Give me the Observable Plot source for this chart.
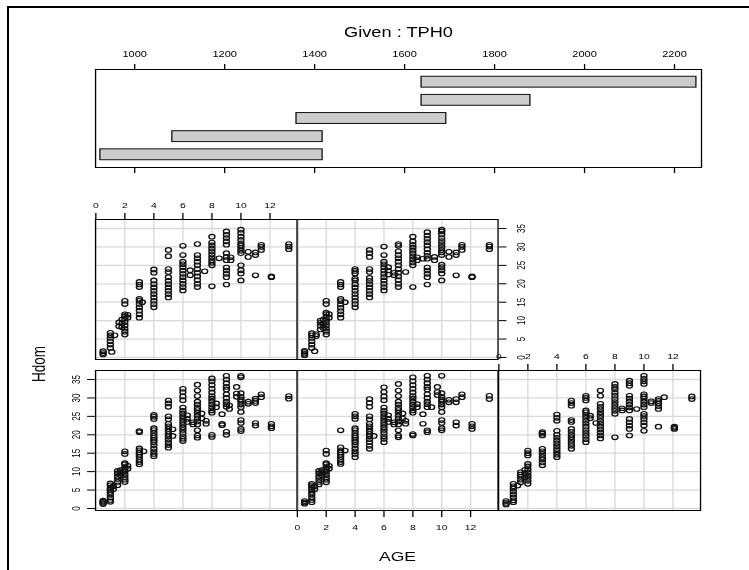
<!DOCTYPE html>
<html><head><meta charset="utf-8">
<script src="https://cdn.jsdelivr.net/npm/d3@7"></script>
<script src="https://cdn.jsdelivr.net/npm/@observablehq/plot@0.6"></script>
<style>
html,body{margin:0;padding:0;background:#fff;}
body{width:749px;height:570px;position:relative;overflow:hidden;font-family:"Liberation Sans",Arial,Helvetica,sans-serif;}
#stage{position:absolute;left:0;top:0;height:570px;transform-origin:0 0;filter:grayscale(1);}
#stage svg{position:absolute;overflow:visible;}
.lbl{position:absolute;white-space:nowrap;color:#000;line-height:1;}
.bline{position:absolute;background:#000;}
</style></head><body>
<div class="bline" style="left:7px;top:6px;width:742px;height:2px"></div>
<div class="bline" style="left:7px;top:6px;width:2px;height:564px"></div>
<div id="stage"></div>
<script>
// ---- data ----
const ageTicks = [0, 2, 4, 6, 8, 10, 12];
const hdomTicks = [0, 5, 10, 15, 20, 25, 30, 35];
const tphTicks = [1000, 1200, 1400, 1600, 1800, 2000, 2200];
const givenLow = [924, 1084, 1360, 1638, 1638];
const givenHigh = [1418, 1418, 1693, 1880, 2249];
const givenTitle = "Given : TPH0";
const xLabel = "AGE";
const yLabel = "Hdom";

// panel 1 (bottom-left): [AGE, [Hdom values]]
const panel1 = [
  [0.5, [1.2, 1.5, 1.8, 2.1]],
  [1, [1.8, 2.3, 3.0, 3.8, 4.5, 5.0, 5.5, 6.3, 6.8]],
  [1.2, [5.2, 6.0]],
  [1.5, [6.3, 7.2, 8.0, 8.7, 9.5, 10.2]],
  [1.7, [9.0, 9.8, 10.4]],
  [2, [7.2, 7.8, 8.5, 9.2, 10.0, 10.6, 11.2, 12.0, 12.3, 14.8, 15.5]],
  [2.2, [10.8, 11.6]],
  [3, [12.0, 12.6, 13.2, 14.0, 14.6, 15.2, 15.8, 16.3, 20.7, 21.0]],
  [3.3, [15.5]],
  [4, [14.2, 14.8, 15.5, 16.3, 17.2, 18.0, 18.6, 19.2, 19.8, 20.5, 21.3, 21.8, 24.3, 24.9, 25.4]],
  [5, [16.5, 17.2, 18.0, 18.8, 19.6, 20.2, 20.9, 21.6, 22.3, 23.0, 24.2, 25.0, 27.6, 28.5, 29.3]],
  [5.3, [19.7, 21.5]],
  [6, [18.3, 18.9, 19.6, 20.5, 21.3, 22.0, 22.7, 23.5, 24.3, 25.0, 25.8, 26.5, 27.4, 29.4, 30.4, 31.6, 32.5]],
  [6.3, [23.5, 24.3, 25.3]],
  [6.7, [22.8, 23.4]],
  [7, [19.2, 19.8, 21.2, 22.8, 23.6, 24.4, 25.2, 26.0, 26.7, 27.3, 28.2, 29.0, 30.5, 32.0, 33.6]],
  [7.3, [24.4, 25.8]],
  [7.6, [23.0, 23.8]],
  [8, [19.4, 20.0, 26.0, 26.6, 27.4, 28.2, 29.0, 29.8, 30.5, 31.5, 32.5, 33.5, 34.5, 35.3]],
  [8.3, [27.5, 28.5]],
  [8.7, [22.6, 23.0, 25.6]],
  [9, [20.0, 20.8, 27.6, 28.3, 29.0, 30.0, 31.0, 32.3, 33.0, 34.0, 35.0, 36.0]],
  [9.2, [27.0, 28.0]],
  [9.7, [30.3, 31.2, 33.0]],
  [10, [21.0, 21.6, 23.2, 24.0, 26.2, 27.5, 28.2, 29.0, 29.6, 30.3, 31.3, 35.6, 36.0]],
  [10.5, [28.4, 29.0]],
  [11, [22.5, 23.2, 28.6, 29.2, 29.8]],
  [11.4, [30.2, 31.0]],
  [12.1, [21.8, 22.3, 23.0]],
  [13.3, [29.8, 30.5]]
];
// panel 2 (bottom-middle)
const panel2 = [
  [0.5, [1.3, 1.6, 2.0]],
  [1, [1.7, 2.3, 3.0, 3.8, 4.5, 5.2, 5.8, 6.3, 6.7]],
  [1.2, [5.2, 6.0]],
  [1.5, [6.5, 7.2, 8.0, 8.7, 9.5, 10.2]],
  [1.7, [9.0, 9.8, 10.4]],
  [2, [7.1, 7.8, 8.5, 9.2, 10.0, 10.6, 11.2, 12.0, 12.3, 14.8, 15.7]],
  [2.2, [10.8, 11.6]],
  [3, [12.1, 12.6, 13.2, 14.0, 14.6, 15.2, 15.8, 16.6, 21.2]],
  [3.3, [15.7]],
  [4, [13.9, 14.8, 15.5, 16.3, 17.2, 18.0, 18.6, 19.2, 19.8, 20.5, 21.3, 21.8, 24.3, 25.0, 25.7]],
  [5, [16.2, 17.0, 18.0, 18.8, 19.6, 20.2, 20.9, 21.6, 22.3, 23.0, 24.2, 25.0, 27.6, 28.7, 29.7]],
  [5.3, [19.7]],
  [6, [18.0, 18.9, 19.6, 20.5, 21.3, 22.0, 22.7, 23.5, 24.3, 25.0, 25.8, 26.5, 27.4, 29.4, 30.4, 31.6, 32.9]],
  [6.3, [23.5, 24.3, 25.3]],
  [6.7, [22.8, 23.4]],
  [7, [19.3, 19.8, 21.2, 22.8, 23.6, 24.4, 25.2, 26.0, 26.7, 27.3, 28.2, 29.0, 30.5, 32.0, 33.8]],
  [7.3, [24.4, 25.8]],
  [7.5, [23.0, 23.8]],
  [8, [19.8, 20.2, 26.0, 26.6, 27.5, 28.2, 29.0, 29.8, 30.5, 31.5, 32.5, 33.5, 34.5, 35.6]],
  [8.3, [27.5, 28.3]],
  [8.7, [23.0, 25.6]],
  [9, [20.7, 21.2, 27.5, 28.3, 29.0, 30.0, 31.0, 32.3, 33.0, 34.0, 35.0, 36.0]],
  [9.3, [27.5]],
  [9.7, [30.8, 31.6, 33.0]],
  [10, [21.2, 21.8, 23.2, 24.0, 26.2, 27.5, 28.2, 29.0, 29.6, 30.3, 31.3, 36.0]],
  [10.5, [28.8, 29.5]],
  [11, [22.5, 23.4, 28.8, 29.7]],
  [11.4, [30.2, 31.0]],
  [12.1, [21.6, 22.3, 23.0]],
  [13.3, [29.7, 30.6]]
];
// panel 3 (bottom-right)
const panel3 = [
  [0.5, [1.1, 1.5, 2.0]],
  [1, [1.7, 2.2, 3.0, 3.8, 4.6, 5.4, 6.0, 6.7]],
  [1.3, [6.2]],
  [1.5, [7.1, 7.8, 8.6, 9.2, 9.8]],
  [1.8, [8.4, 9.5, 10.5]],
  [2, [6.7, 7.5, 8.3, 9.0, 9.8, 10.6, 11.4, 12.1, 14.4, 15.0, 15.7]],
  [3, [11.7, 12.5, 13.3, 14.0, 14.8, 15.5, 16.2, 19.8, 20.3, 20.7]],
  [4, [13.9, 14.6, 15.3, 16.1, 16.9, 17.6, 18.4, 19.2, 20.0, 21.1, 23.8, 24.6, 25.5]],
  [5, [16.2, 17.0, 17.8, 18.6, 19.3, 20.0, 20.8, 21.6, 23.5, 24.0, 27.9, 28.6, 29.3]],
  [6, [18.0, 18.8, 19.7, 20.5, 21.3, 22.2, 23.0, 23.8, 24.6, 25.4, 26.1, 26.6, 29.3, 30.0, 30.6]],
  [6.3, [24.5, 25.2]],
  [6.7, [23.2]],
  [7, [19.0, 19.8, 20.6, 21.4, 22.2, 23.0, 23.8, 24.6, 25.4, 26.1, 26.9, 27.6, 28.4, 30.6, 32.0]],
  [8, [19.3, 25.7, 26.5, 27.3, 28.1, 28.9, 29.7, 30.6, 31.4, 32.3, 33.0, 33.8]],
  [8.5, [26.6, 27.2]],
  [9, [19.8, 21.6, 22.5, 23.4, 24.3, 26.6, 27.4, 28.2, 29.0, 29.8, 30.6, 33.3, 34.0, 34.7]],
  [9.5, [27.0]],
  [10, [21.1, 22.5, 23.4, 24.3, 25.1, 25.7, 27.5, 28.2, 29.0, 29.8, 30.4, 31.0, 33.8, 34.5, 35.2, 36.0]],
  [10.5, [28.6, 29.1]],
  [11, [22.2, 27.0, 27.8, 28.5, 29.2, 29.7]],
  [11.4, [30.2]],
  [12.1, [21.6, 21.9, 22.2]],
  [13.3, [29.7, 30.4]]
];
// panel 4 (top-left)
const panel4 = [
  [0.5, [0.8, 1.2, 1.7]],
  [1, [2.6, 3.5, 4.4, 5.3, 6.0, 6.7]],
  [1.1, [1.5]],
  [1.3, [6.0]],
  [1.6, [8.5, 9.5]],
  [1.8, [8.2, 9.2, 10.3]],
  [2, [6.2, 7.0, 7.8, 8.7, 9.6, 10.5, 11.2, 11.7, 14.5, 15.4]],
  [2.2, [10.8, 11.6]],
  [3, [10.8, 11.7, 12.7, 13.6, 14.5, 15.4, 15.9, 19.1, 19.8, 20.5]],
  [3.2, [15.0]],
  [4, [13.6, 14.5, 15.4, 16.3, 17.2, 18.1, 19.0, 19.9, 20.9, 23.0, 23.9]],
  [5, [16.3, 17.2, 18.1, 19.0, 19.9, 20.8, 21.8, 23.2, 24.0, 27.5, 29.2]],
  [6, [18.2, 19.1, 20.0, 20.9, 21.8, 22.7, 23.6, 24.5, 25.3, 26.0, 27.8, 30.3]],
  [6.5, [22.3, 23.7]],
  [7, [19.1, 20.0, 21.0, 22.0, 23.0, 24.0, 25.0, 26.0, 26.9, 27.8, 30.8]],
  [7.5, [23.4]],
  [8, [19.3, 25.0, 25.7, 26.4, 27.2, 28.0, 28.8, 29.6, 30.4, 31.2, 32.8]],
  [8.5, [26.9]],
  [9, [19.8, 21.8, 22.7, 23.6, 24.4, 26.4, 27.3, 28.3, 30.6, 31.5, 32.4, 33.3, 34.2]],
  [9.3, [26.4, 27.2]],
  [10, [20.9, 22.8, 23.7, 25.0, 28.3, 29.0, 29.7, 30.4, 31.0, 31.9, 32.8, 33.8, 34.7]],
  [10.5, [27.3, 28.7]],
  [11, [22.3, 27.8, 28.5]],
  [11.4, [29.2, 30.0, 30.6]],
  [12.1, [21.8, 22.0]],
  [13.3, [29.4, 30.1, 30.8]]
];
// panel 5 (top-middle)
const panel5 = [
  [0.5, [0.6, 1.0, 1.5, 1.8]],
  [1, [2.6, 3.5, 4.4, 5.3, 6.0, 6.6]],
  [1.2, [1.7]],
  [1.3, [5.8, 6.3]],
  [1.6, [7.6, 8.6, 9.4, 10.0]],
  [1.8, [8.0, 9.2, 10.3]],
  [2, [6.2, 7.0, 7.8, 8.6, 9.4, 10.2, 11.0, 11.8, 12.2, 14.5, 15.4]],
  [2.2, [10.8, 11.8]],
  [3, [10.8, 11.7, 12.6, 13.5, 14.4, 15.3, 15.9, 19.1, 19.8, 20.5]],
  [3.3, [15.0]],
  [4, [13.6, 14.5, 15.4, 16.3, 17.2, 18.1, 19.0, 19.9, 20.9, 21.4, 22.8, 23.5, 24.0]],
  [5, [16.3, 17.2, 18.1, 19.0, 19.9, 20.8, 21.6, 23.2, 24.0, 27.3, 28.3, 29.2]],
  [6, [18.2, 19.1, 20.0, 20.9, 21.8, 22.7, 23.6, 24.5, 25.3, 26.0, 27.8, 30.1]],
  [6.3, [22.5, 23.6, 24.5]],
  [6.7, [22.3, 23.0]],
  [7, [19.1, 20.0, 21.0, 22.0, 23.0, 24.0, 25.0, 26.0, 26.9, 27.8, 28.8, 30.3, 30.8]],
  [7.5, [23.2]],
  [8, [19.1, 25.0, 25.8, 26.6, 27.4, 28.2, 29.0, 29.8, 30.6, 31.5, 32.8]],
  [8.3, [26.4, 27.2]],
  [8.7, [26.8]],
  [9, [19.8, 21.8, 22.7, 23.6, 24.4, 26.8, 27.6, 28.4, 29.4, 30.4, 31.3, 32.2, 33.1, 34.0]],
  [9.5, [26.4, 27.3]],
  [10, [20.9, 22.8, 23.7, 24.5, 25.2, 27.8, 28.5, 29.2, 30.0, 30.8, 31.6, 32.4, 33.4, 34.2, 34.7]],
  [10.5, [27.3, 28.7]],
  [11, [22.3, 27.8, 28.5]],
  [11.4, [29.2, 30.0, 30.6]],
  [12.1, [21.8, 22.0]],
  [13.3, [29.4, 30.1, 30.6]]
];

// ---- drawing ----
const S = 1.3; // horizontal stretch of the reference picture
const FONT = '"Liberation Sans", Arial, Helvetica, sans-serif';
const xDom = [-0.02, 13.9];
const yDom = [-0.55, 37.45];

const stage = document.getElementById("stage");
stage.style.width = (749 / S) + "px";
stage.style.transform = "scaleX(" + S + ")";

function put(node, xRef, y) {
  node.style.position = "absolute";
  node.style.left = (xRef / S) + "px";
  node.style.top = y + "px";
  stage.appendChild(node);
}

function tickX(ticks, anchor, size) {
  return typeof Plot.axisTickX === "function"
    ? Plot.axisTickX(ticks, {anchor, tickSize: size, stroke: "#111"})
    : Plot.axisX(ticks, {anchor, tickSize: size, tickFormat: () => "", label: null});
}
function tickY(ticks, anchor, size) {
  return typeof Plot.axisTickY === "function"
    ? Plot.axisTickY(ticks, {anchor, tickSize: size, stroke: "#111"})
    : Plot.axisY(ticks, {anchor, tickSize: size, tickFormat: () => "", label: null});
}

function scatter(rows, fr, axis) {
  const pts = rows.flatMap(([a, hs]) => hs.map(h => ({age: a, hdom: h})));
  const m = {t: 26, r: 30, b: 26, l: 26};
  const fw = (fr.x1 - fr.x0) / S, fh = fr.y1 - fr.y0;
  const marks = [
    Plot.gridX(ageTicks, {stroke: "#d8d8d8", strokeOpacity: 1, strokeWidth: 1}),
    Plot.gridY(hdomTicks, {stroke: "#d8d8d8", strokeOpacity: 1, strokeWidth: 1.3}),
    Plot.dot(pts, {x: "age", y: "hdom", r: 2.3, stroke: "#111", strokeWidth: 1.1, fill: "none"}),
    Plot.frame({stroke: "#000", strokeWidth: 1})
  ];
  if (axis === "top") marks.push(tickX(ageTicks, "top", 7),
    Plot.text(ageTicks, {x: d => d, text: d => String(d), frameAnchor: "top", dy: -14.5, fontSize: 8, lineAnchor: "middle", fill: "#000"}));
  if (axis === "bottom") marks.push(tickX(ageTicks, "bottom", 7),
    Plot.text(ageTicks, {x: d => d, text: d => String(d), frameAnchor: "bottom", dy: 17, fontSize: 8, lineAnchor: "middle", fill: "#000"}));
  if (axis === "left") marks.push(tickY(hdomTicks, "left", 6),
    Plot.text(hdomTicks, {y: d => d, text: d => String(d), frameAnchor: "left", dx: -19 / S, rotate: -90, fontSize: 8, lineAnchor: "middle", textAnchor: "middle", fill: "#000"}));
  if (axis === "right") marks.push(tickY(hdomTicks, "right", 6),
    Plot.text(hdomTicks, {y: d => d, text: d => String(d), frameAnchor: "right", dx: 24 / S, rotate: -90, fontSize: 8, lineAnchor: "middle", textAnchor: "middle", fill: "#000"}));
  const svg = Plot.plot({
    width: fw + m.l + m.r, height: fh + m.t + m.b,
    marginTop: m.t, marginRight: m.r, marginBottom: m.b, marginLeft: m.l,
    x: {domain: xDom, axis: null}, y: {domain: yDom, axis: null},
    style: {fontFamily: FONT, background: "transparent", color: "#000"},
    marks
  });
  put(svg, fr.x0 - m.l * S, fr.y0 - m.t);
}

function givenPanel() {
  const fr = {x0: 95, x1: 701, y0: 69, y1: 167};
  const m = {t: 26, r: 10, b: 10, l: 10};
  const fw = (fr.x1 - fr.x0) / S, fh = fr.y1 - fr.y0;
  const bars = givenLow.map((lo, i) => ({lo, hi: givenHigh[i], k: i + 1}));
  const svg = Plot.plot({
    width: fw + m.l + m.r, height: fh + m.t + m.b,
    marginTop: m.t, marginRight: m.r, marginBottom: m.b, marginLeft: m.l,
    x: {domain: [913, 2260], axis: null}, y: {domain: [0.3, 5.7], axis: null},
    style: {fontFamily: FONT, background: "transparent", color: "#000"},
    marks: [
      Plot.rect(bars, {x1: "lo", x2: "hi", y1: d => d.k - 0.3, y2: d => d.k + 0.3, fill: "#cccccc", stroke: "#111", strokeWidth: 1}),
      Plot.frame({stroke: "#000", strokeWidth: 1}),
      tickX(tphTicks, "top", 6),
      tickX(tphTicks, "bottom", 6),
      Plot.text(tphTicks, {x: d => d, text: d => String(d), frameAnchor: "top", dy: -15, fontSize: 8.5, lineAnchor: "middle", fill: "#000"})
    ]
  });
  put(svg, fr.x0 - m.l * S, fr.y0 - m.t);
}

givenPanel();
scatter(panel4, {x0: 95, x1: 297, y0: 219, y1: 359}, "top");
scatter(panel5, {x0: 297, x1: 498, y0: 219, y1: 359}, "right");
scatter(panel1, {x0: 95, x1: 297, y0: 370, y1: 510}, "left");
scatter(panel2, {x0: 297, x1: 498, y0: 370, y1: 510}, "bottom");
scatter(panel3, {x0: 498, x1: 700, y0: 370, y1: 510}, "top");

function label(txt, xRef, y, size, rot) {
  const d = document.createElement("div");
  d.className = "lbl";
  d.textContent = txt;
  d.style.fontSize = size + "px";
  d.style.transform = "translate(-50%,-50%)" + (rot ? " rotate(" + rot + "deg)" : "");
  put(d, xRef, y);
}
label(givenTitle, 398.5, 31.5, 14, 0);
label(xLabel, 397.5, 557, 13.5, 0);
label(yLabel, 39, 364, 13.5, -90);
</script></body></html>
